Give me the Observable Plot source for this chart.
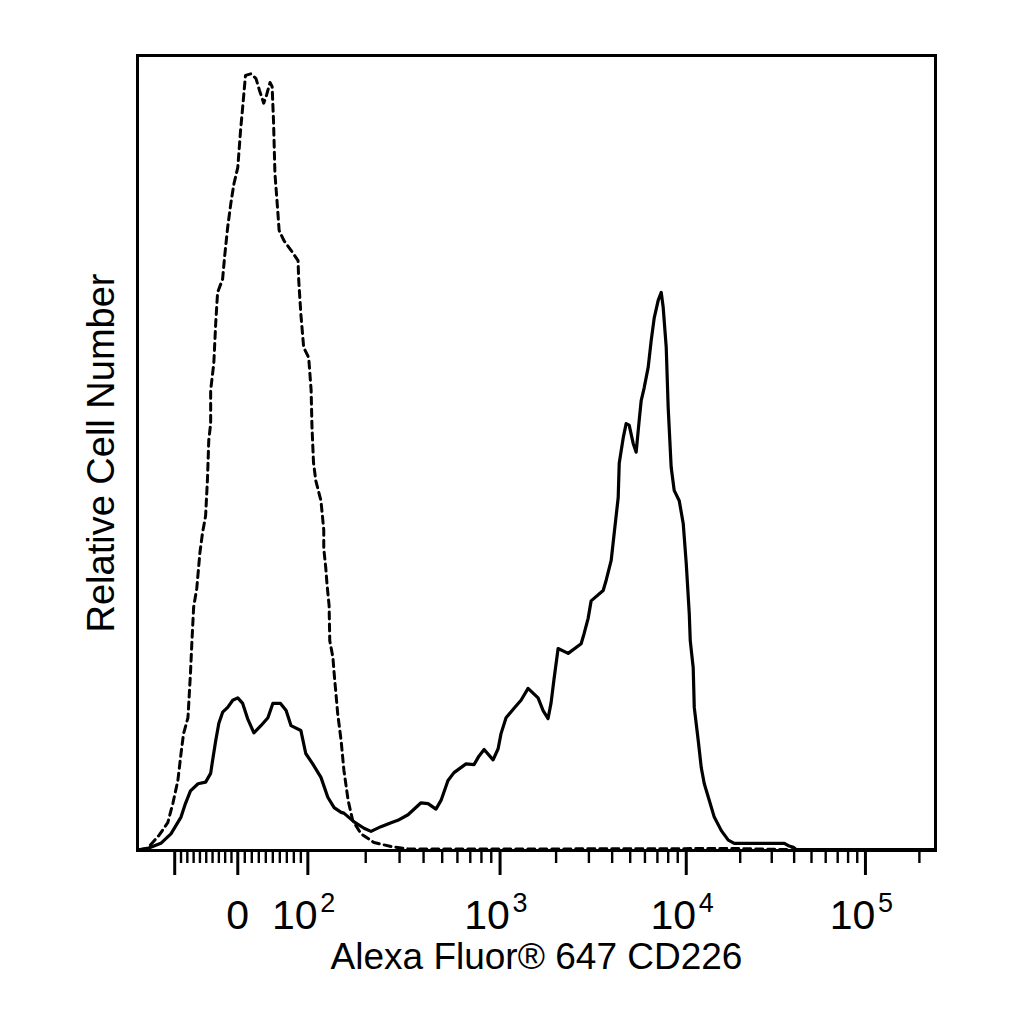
<!DOCTYPE html>
<html>
<head>
<meta charset="utf-8">
<script src="https://cdn.jsdelivr.net/npm/d3@7"></script>
<script src="https://cdn.jsdelivr.net/npm/@observablehq/plot@0.6"></script>
<style>
  html, body { margin: 0; padding: 0; background: #fff; }
  svg { display: block; }
</style>
</head>
<body>
<div id="chart"></div>
<script>
// Isotype control (dashed) — fluorescence intensity and relative count
const isoX = [-155,-143,-125,-111,-103,-95,-90,-86,-79,-75,-73,-70,-65,-60,-56,-51,-48,-46,-43,-43,-38,-35,-32,-24,-21,-16,-11,-6,0,4,7,11,19,26,31,37,41,46,49,51,53,57,59,66,76,86,87,90,94,101,104,105,107,110,117,121,121,124,126,129,130,135,137,143,149,154,162,171,189,221,271,332,2000,19000,40000,246000];
const isoY = [0.1,0.3,1.9,3.5,5.9,8.8,12.2,14.7,16.7,22.3,25.8,30.6,33.0,37.5,39.9,42.1,46.8,51.6,53.7,57.9,61.3,66.3,70.2,71.9,74.6,78.4,81.4,83.9,85.9,90.6,93.5,97.5,97.7,97.1,95.6,94.0,95.0,96.6,96.1,91.8,85.2,80.5,78.0,76.7,75.5,74.2,71.7,67.5,63.3,62.0,57.9,53.5,48.8,46.5,44.0,40.3,38.0,35.5,33.3,30.8,26.4,24.3,22.3,17.2,13.8,10.1,6.3,3.8,2.1,1.0,0.5,0.2,0.2,0.25,0.1,0.1];

// CD226 stained (solid)
const cdX = [-155,-143,-122,-106,-90,-83,-75,-63,-51,-43,-40,-35,-30,-24,-16,-8,0,7,14,23,33,43,50,61,69,76,90,97,106,117,127,137,149,154,174,196,213,240,271,294,332,388,422,464,493,536,576,665,732,778,826,920,977,1012,1077,1189,1296,1414,1600,1703,1811,1880,1950,2050,2322,2725,2829,2972,3084,3579,3715,3952,4102,4310,4365,4585,4755,4937,5188,5383,5587,5728,5943,6247,6486,6730,7068,7339,7520,7806,7998,8299,8613,9169,9636,10000,10394,10527,10933,11084,11668,12130,12608,13447,14329,15690,17160,18540,35280,37150,39630,41200,246000];
const cdY = [0.1,0.25,0.9,2.1,4.2,5.9,7.5,8.4,8.6,9.7,11.3,13.8,16.0,17.4,18.0,18.9,19.2,18.5,16.6,14.8,15.7,16.7,18.5,18.5,17.6,15.7,15.1,12.2,10.9,9.2,6.7,5.4,4.8,4.7,3.6,2.8,2.4,3.0,3.5,3.8,4.5,6.0,5.9,5.2,6.3,8.8,9.8,10.9,10.8,11.9,12.7,11.4,12.8,14.7,16.7,17.9,18.9,20.4,19.2,17.6,16.6,18.6,21.6,25.4,24.8,26.0,27.3,29.2,31.4,32.7,34.0,36.5,39.9,44.4,48.7,51.9,53.7,53.5,51.2,50.1,54.1,56.6,58.2,60.8,64.2,67.0,69.2,70.2,68.3,63.3,55.7,48.2,45.3,44.0,41.1,36.1,29.8,26.4,23.0,18.0,13.8,10.4,8.4,6.3,4.2,2.5,1.3,0.9,0.9,0.6,0.4,0.1,0.1];

// Axis ticks
const majorTicks = [-100, 0, 100, 1000, 10000, 100000];
const minorTicks = [-90,-80,-70,-60,-50,-40,-30,-20,-10,10,20,30,40,50,60,70,80,90,
  200,300,400,500,600,700,800,900,2000,3000,4000,5000,6000,7000,8000,9000,
  20000,30000,40000,50000,60000,70000,80000,90000,200000];
const decadeTicks = [100, 1000, 10000, 100000];
const decadeExps = ["2", "3", "4", "5"];
const xDomainLimits = [-159, 246000];

// Logicle-like display transform (linear near zero, log above 10^2)
function logicle(v) {
  if (v < 0) return v / 100 * 63 / 192;
  const lin = 70 / 192;
  if (v < 100) return v / 100 * lin;
  const L = Math.log10(v);
  if (L < 3) return lin + (L - 2);
  if (L < 4) return lin + 1 + (L - 3) * 186 / 192;
  return lin + 1 + 186 / 192 + (L - 4) * 179 / 192;
}

const iso = isoX.map((x, i) => ({x, y: isoY[i]}));
const cd = cdX.map((x, i) => ({x, y: cdY[i]}));
const decades = decadeTicks.map((v, i) => ({v, e: decadeExps[i]}));

const font = "'Liberation Sans', Arial, sans-serif";

const chart = Plot.plot({
  width: 1024,
  height: 1024,
  marginLeft: 137,
  marginRight: 89,
  marginTop: 55,
  marginBottom: 174,
  style: {fontFamily: font, background: "#fff", color: "#000"},
  x: {transform: logicle, domain: xDomainLimits.map(logicle), axis: null},
  y: {domain: [0, 100], axis: null},
  marks: [
    Plot.line(iso, {x: "x", y: "y", stroke: "#000", strokeWidth: 3, strokeDasharray: "7,5"}),
    Plot.line(cd, {x: "x", y: "y", stroke: "#000", strokeWidth: 3.2}),
    Plot.frame({stroke: "#000", strokeWidth: 3}),
    Plot.axisX(minorTicks, {tickSize: 13, tickFormat: () => "", label: null, strokeWidth: 2.4}),
    Plot.axisX(majorTicks, {tickSize: 25, tickFormat: () => "", label: null, strokeWidth: 3}),
    Plot.text([0], {x: d => d, text: () => "0", frameAnchor: "bottom", dy: 78, lineAnchor: "bottom", fontSize: 41, fill: "#000"}),
    Plot.text(decades, {x: "v", text: () => "10", frameAnchor: "bottom", dy: 78, dx: -13, lineAnchor: "bottom", fontSize: 41, fill: "#000"}),
    Plot.text(decades, {x: "v", text: "e", frameAnchor: "bottom", dy: 61, dx: 20, lineAnchor: "bottom", fontSize: 27, fill: "#000"}),
    Plot.text(["Alexa Fluor® 647 CD226"], {frameAnchor: "bottom", dy: 118, lineAnchor: "bottom", fontSize: 37, fill: "#000"}),
    Plot.text(["Relative Cell Number"], {frameAnchor: "left", dx: -24, rotate: -90, textAnchor: "middle", lineAnchor: "bottom", fontSize: 38, fill: "#000"})
  ]
});
document.getElementById("chart").appendChild(chart);
</script>
</body>
</html>
